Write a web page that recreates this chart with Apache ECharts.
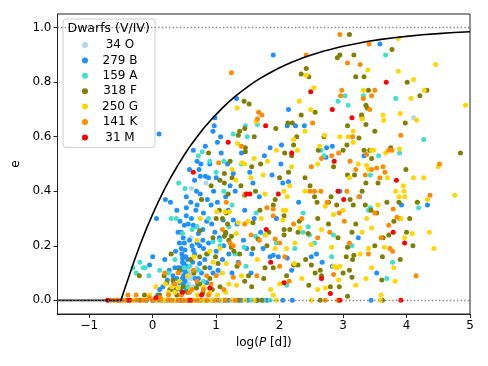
<!DOCTYPE html>
<html><head><meta charset="utf-8">
<script src="https://cdn.jsdelivr.net/npm/echarts@6/dist/echarts.min.js"></script>
<style>html,body{margin:0;padding:0;background:#fff}#c{width:488px;height:366px}</style>
</head><body><div id="c"></div>
<script>
const FONT = 'DejaVu Sans';
const xTicks = [-1, 0, 1, 2, 3, 4, 5];
const yTicks = [0, 0.2, 0.4, 0.6, 0.8, 1.0];
const legendTitle = 'Dwarfs (V/IV)';
const seriesNames = ['34 O', '279 B', '159 A', '318 F', '250 G', '141 K', '31 M'];
const seriesColors = ['#add8e6', '#1e90ff', '#40e0d0', '#808000', '#ffd700', '#ff8c00', '#ff0000'];

// envelope curve (log P, e)
const envelopeLogP = [-1.5,-0.5,-0.45,-0.4,-0.3,-0.2,-0.1,0,0.1,0.2,0.3,0.4,0.5,0.6,0.7,0.8,0.9,1.0,1.1,1.2,1.3,1.4,1.5,1.6,1.7,1.8,1.9,2.0,2.1,2.2,2.3,2.4,2.5,2.6,2.7,2.8,2.9,3.0,3.2,3.4,3.6,3.8,4.0,4.25,4.5,4.75,5.0];
const envelopeE   = [0,0,0.036,0.070,0.139,0.203,0.262,0.316,0.367,0.414,0.457,0.497,0.534,0.569,0.600,0.630,0.657,0.682,0.706,0.728,0.748,0.766,0.784,0.800,0.815,0.828,0.841,0.853,0.864,0.874,0.883,0.892,0.900,0.907,0.914,0.920,0.926,0.932,0.941,0.950,0.957,0.963,0.968,0.974,0.978,0.982,0.985];

const O = [[0.84,0.43],[0.61,0.41],[0.60,0.23],[0.48,0.21],[0.55,0.12],[0.58,0.10],[0.62,0.09],[0.56,0.11],[0.52,0.13],[0.60,0.08],[0.66,0.11],[0.53,0.08],[0.57,0.06],[0.64,0.05],[0.70,0.12],[0.45,0.10],[4.11,0.67],[1.05,0.10],[0.40,0.05],[0.30,0],[0.45,0],[0.55,0],[0.60,0],[0.65,0],[0.70,0],[0.75,0],[0.80,0],[1.00,0],[1.30,0],[1.60,0],[0.50,0],[0.35,0],[0.90,0],[1.70,0]];

const B = [[0.10,0.61],[0.06,0.30],[0.20,0.37],[0.28,0.36],[0.00,0.16],[0.19,0.15],[-0.05,0.13],[1.90,0.90],[1.32,0.74],[0.98,0.67],[0.97,0.64],[0.95,0.62],[1.07,0.60],[0.64,0.55],[1.02,0.58],[0.83,0.565],[1.08,0.54],[0.70,0.51],[0.76,0.50],[0.90,0.50],[0.73,0.48],[0.83,0.455],[0.88,0.45],[0.75,0.455],[0.69,0.40],[0.53,0.38],[0.75,0.39],[0.86,0.37],[0.92,0.35],[1.02,0.36],[1.22,0.42],[1.27,0.465],[1.40,0.54],[1.53,0.47],[1.58,0.43],[1.68,0.38],[1.76,0.53],[1.85,0.56],[1.88,0.46],[2.03,0.57],[2.02,0.50],[2.14,0.70],[2.12,0.64],[2.25,0.64],[2.39,0.64],[2.05,0.43],[2.14,0.435],[2.74,0.56],[2.73,0.525],[2.83,0.565],[2.95,0.40],[3.33,0.53],[3.26,0.38],[3.24,0.23],[3.53,0.10],[3.58,0.94],[3.92,0.35],[4.33,0.35],
[0.45,0.19],[0.43,0.29],[0.40,0.25],[0.45,0.25],[0.50,0.275],[0.53,0.34],[0.53,0.31],[0.61,0.30],[0.64,0.275],[0.69,0.27],[0.72,0.245],[0.79,0.26],[0.85,0.29],[0.79,0.22],[0.74,0.20],[0.64,0.185],[0.51,0.185],[0.47,0.155],[0.49,0.135],[0.53,0.125],[0.45,0.12],[0.49,0.09],[0.43,0.065],[0.50,0.05],[0.46,0.025],[0.56,0.04],[0.74,0.135],[0.77,0.10],[0.72,0.08],[0.85,0.065],[0.95,0.10],[1.03,0.11],[1.10,0.15],[1.15,0.245],[1.11,0.295],[1.19,0.33],[1.27,0.295],[1.33,0.28],[1.43,0.22],[1.48,0.19],[1.56,0.17],[1.74,0.19],[1.85,0.16],[1.90,0.165],[1.98,0.16],[2.12,0.155],[2.19,0.11],[2.50,0.16],[2.58,0.17],[2.67,0.14],[2.83,0.125],[0.23,0.075],[0.16,0.05],[0.08,0.02],[0.11,0.04],[0.29,0.04],[0.35,0.12],[0.32,0.09],
[0.48,0.23],[0.50,0.21],[0.46,0.17],[0.52,0.16],[0.55,0.15],[0.47,0.14],[0.50,0.11],[0.52,0.10],[0.47,0.08],[0.51,0.07],[0.48,0.06],[0.53,0.035],[0.44,0.04],[0.58,0.22],[0.62,0.20],[0.66,0.17],[0.70,0.21],[0.68,0.33],[0.56,0.28],[0.60,0.36],[0.38,0.33],[0.42,0.21],[0.36,0.18],[0.63,0.14],[0.67,0.08],[0.71,0.06],[0.80,0.19],[0.82,0.15],[0.88,0.21],[0.93,0.28],[0.98,0.25],[1.00,0.18],[1.05,0.23],[1.12,0.20],[1.20,0.17],[1.25,0.10],[1.35,0.14],[0.90,0.12],[0.96,0.40],[1.00,0.45],[1.15,0.38],[1.30,0.40],[1.18,0.50],[0.70,0.35],[0.80,0.32],[0.58,0.48],[0.66,0.44],[0.40,0.12],[0.33,0.06],[0.26,0.11],[0.38,0.08],[1.60,0.30],[1.70,0.25],[1.95,0.30],[2.30,0.36],[1.45,0.33],[1.55,0.10],
[-0.10,0],[0.05,0],[0.20,0],[0.40,0],[0.50,0],[0.62,0],[0.85,0],[1.05,0],[1.20,0],[1.40,0],[1.50,0],[1.80,0],[2.05,0],[2.20,0],[3.44,0],[0.95,0],[1.12,0],[1.65,0]];

const A = [[3.67,0.90],[3.32,0.75],[3.08,0.715],[3.83,0.74],[4.27,0.59],[3.56,0.53],[3.43,0.46],[4.19,0.34],[3.43,0.34],[3.89,0.54],[3.78,0.14],[3.69,0.08],[3.14,0.20],[2.85,0.24],[2.82,0.16],[2.65,0.55],[2.37,0.32],[2.45,0.27],[2.37,0.25],[2.24,0.19],[2.11,0.055],[1.95,0.21],[1.65,0.645],[1.49,0.60],[1.46,0.64],[1.27,0.61],[1.12,0.51],[1.00,0.47],[0.78,0.545],[0.72,0.53],[0.77,0.37],[0.41,0.43],[0.51,0.41],[0.29,0.30],[0.37,0.30],[0.47,0.245],[-0.20,0.14],[-0.31,0.12],[-0.15,0.12],[-0.12,0.12],[-0.26,0.10],[-0.06,0.09],[0.11,0.11],[0.50,0.12],[0.58,0.125],[0.72,0.11],[0.87,0.17],[1.30,0.17],[1.47,0.125],[1.62,0.235],[1.63,0.32],[1.77,0.24],[1.06,0.20],[1.06,0.22],[0.95,0.215],[3.03,0.75],[1.44,0.195],[0.62,0.26],[0.70,0.27],[1.12,0.40],[1.25,0.35],[0.88,0.30],[1.40,0.50],[0.90,0.51],[0.35,0.15],[0.25,0.10],[0.55,0.05],[0.80,0.07],[1.20,0.27],[2.70,0.53],[2.92,0.73],[3.40,0.33],[2.55,0.21],[2.47,0.24],
[-0.30,0],[0.0,0],[0.25,0],[0.55,0],[0.85,0],[1.10,0],[1.25,0],[1.35,0],[1.55,0],[1.75,0],[1.85,0],[0.15,0],[0.70,0]];

const F = [[3.10,0.975],[2.95,0.90],[2.91,0.89],[3.17,0.90],[3.77,0.92],[2.42,0.85],[2.34,0.83],[2.46,0.82],[3.33,0.82],[3.20,0.82],[3.40,0.77],[4.32,0.77],[4.01,0.80],[4.21,0.75],[3.36,0.715],[3.38,0.705],[3.29,0.68],[3.30,0.67],[3.98,0.65],[3.36,0.645],[3.07,0.64],[3.25,0.595],[3.50,0.62],[3.06,0.57],[3.33,0.55],[3.42,0.55],[3.45,0.52],[3.36,0.43],[3.07,0.46],[3.18,0.46],[3.99,0.48],[4.85,0.54],[3.88,0.36],[3.69,0.36],[4.17,0.36],[4.05,0.30],[3.53,0.32],[3.44,0.33],[3.35,0.35],[3.16,0.35],[3.11,0.37],[2.90,0.35],[2.77,0.36],[2.81,0.38],[2.55,0.38],[2.59,0.36],[2.48,0.42],[2.61,0.55],[2.56,0.69],[2.34,0.68],[2.13,0.65],[2.20,0.65],[1.94,0.63],[2.27,0.60],[2.22,0.57],[2.19,0.53],[2.08,0.54],[2.14,0.47],[2.00,0.45],[1.93,0.37],[1.90,0.35],[2.07,0.31],[2.07,0.26],[2.07,0.24],[2.16,0.26],[2.29,0.25],[2.31,0.29],[2.45,0.245],[2.22,0.13],[2.11,0.09],[2.29,0.13],[2.41,0.15],[2.56,0.10],[2.46,0.055],[2.64,0.11],[2.66,0.09],[2.77,0.28],[2.92,0.23],[2.94,0.05],[3.07,0.015],[3.07,0.195],[3.17,0.165],[3.14,0.085],[3.10,0.11],[3.15,0.15],[3.05,0.16],[3.14,0.25],[3.62,0.16],[3.61,0.075],[3.63,0.23],[3.72,0.24],[3.90,0.15],[3.90,0.30],[1.90,0.12],[1.77,0.12],[1.66,0.225],[1.58,0.285],[1.69,0.33],[1.58,0.19],[1.37,0.17],[1.51,0.09],[1.33,0.125],[1.56,0.05],[1.45,0.07],[1.24,0.195],[1.13,0.235],[1.15,0.25],[1.24,0.235],[1.16,0.32],[1.19,0.39],[1.13,0.465],[1.06,0.44],[1.13,0.43],[1.22,0.51],[1.35,0.605],[1.37,0.62],[1.45,0.63],[1.44,0.73],[1.52,0.72],[1.46,0.56],[1.46,0.545],[1.56,0.49],[1.39,0.42],[1.45,0.385],[0.88,0.54],[0.77,0.37],[0.74,0.255],[0.74,0.16],[0.95,0.23],[0.99,0.16],[1.03,0.135],[1.06,0.05],[0.74,0.06],[0.79,0.027],[0.90,0.08],[0.69,0.045],[0.32,0.075],[0.37,0.04],[0.22,0.065],[0.18,0.09],[0.29,0.17],[-0.13,0.02],[-0.21,0.09],[0.11,0.02],[0.48,0.05],
[1.10,0.30],[1.18,0.28],[1.20,0.22],[1.28,0.18],[1.05,0.33],[1.25,0.45],[1.62,0.40],[1.75,0.08],[1.83,0.25],[1.60,0.60],[1.70,0.50],[2.40,0.45],[2.60,0.30],[2.70,0.60],[2.85,0.49],[3.00,0.55],[3.20,0.28],[3.30,0.40],[3.55,0.43],[3.75,0.56],[3.80,0.29],[4.00,0.25],[4.10,0.20],[3.50,0.20],[3.00,0.10],[2.80,0.05],[2.50,0.13],[1.80,0.20],[0.85,0.17],[0.65,0.10],[0.60,0.15],[0.42,0.11],[0.27,0.04],[0.38,0.02],[0.55,0.03],[0.82,0.12],[0.94,0.04],[1.00,0.30],[0.92,0.42],
[-0.55,0],[-0.40,0],[-0.20,0],[0.00,0],[0.15,0],[0.35,0],[0.55,0],[0.75,0],[0.95,0],[1.15,0],[1.35,0],[1.64,0],[1.72,0],[2.64,0],[3.62,0],[0.45,0],[0.85,0]];

const G = [[3.87,0.96],[3.87,0.84],[4.46,0.865],[3.39,0.845],[2.42,0.825],[2.54,0.78],[3.32,0.77],[4.11,0.81],[4.07,0.74],[4.28,0.77],[4.93,0.715],[2.31,0.73],[2.49,0.70],[3.63,0.68],[3.64,0.66],[3.90,0.685],[4.16,0.66],[3.30,0.665],[3.16,0.62],[3.08,0.60],[3.16,0.58],[2.71,0.605],[2.63,0.565],[3.24,0.50],[3.45,0.55],[3.48,0.55],[3.67,0.54],[3.89,0.555],[3.37,0.495],[3.40,0.48],[4.11,0.45],[4.27,0.45],[4.50,0.49],[4.76,0.385],[3.95,0.42],[3.96,0.40],[3.97,0.38],[3.83,0.40],[3.88,0.38],[4.33,0.37],[3.91,0.30],[4.36,0.25],[4.09,0.245],[3.97,0.23],[4.43,0.19],[3.82,0.07],[3.80,0.12],[3.65,0.195],[3.40,0.19],[3.37,0.30],[3.45,0.265],[3.00,0.33],[2.85,0.315],[2.72,0.345],[2.66,0.26],[2.82,0.195],[2.85,0.125],[2.90,0.12],[2.95,0.125],[2.93,0.075],[3.20,0.055],[3.27,0.17],[3.36,0.08],[2.72,0.045],[2.50,0.205],[2.32,0.265],[2.24,0.21],[2.23,0.135],[2.11,0.19],[2.06,0.33],[2.10,0.33],[2.05,0.295],[2.12,0.38],[2.07,0.40],[2.16,0.42],[2.19,0.49],[2.28,0.55],[2.22,0.59],[1.77,0.39],[1.74,0.46],[1.81,0.51],[1.71,0.30],[1.78,0.24],[1.86,0.04],[1.90,0.02],[1.93,0.19],[1.34,0.575],[1.33,0.705],[1.63,0.655],[1.41,0.505],[1.31,0.44],[1.21,0.325],[1.14,0.325],[1.35,0.285],[1.32,0.245],[1.16,0.135],[1.32,0.055],[1.06,0.19],[1.01,0.325],
[1.25,0.48],[1.45,0.50],[1.55,0.45],[1.60,0.52],[1.50,0.29],[1.65,0.15],[1.40,0.09],[1.20,0.06],[1.10,0.10],[0.95,0.14],[0.90,0.18],[0.70,0.22],[0.75,0.30],[0.65,0.16],[0.55,0.09],[0.42,0.07],[0.30,0.05],[0.25,0.03],[0.20,0.06],[0.35,0.03],[0.40,0.045],[0.60,0.04],[0.70,0.02],[0.80,0.05],[0.90,0.03],[1.02,0.02],[1.15,0.03],[0.05,0.05],[-0.05,0.02],[2.00,0.06],[2.35,0.08],[2.60,0.04],[2.60,0.50],[2.40,0.40],[2.95,0.60],[3.10,0.45],[3.30,0.25],[3.55,0.35],[3.70,0.45],[3.45,0.12],[3.60,0.02],[2.40,0.62],[1.95,0.55],
[-0.50,0],[-0.30,0],[-0.15,0],[0.05,0],[0.20,0],[0.35,0],[0.50,0],[0.65,0],[0.80,0],[0.95,0],[1.08,0],[1.25,0],[1.45,0],[1.60,0],[1.95,0],[2.50,0],[3.59,0],[0.15,0],[0.72,0],[0.88,0]];

const K = [[2.95,0.975],[3.41,0.94],[2.42,0.90],[3.07,0.87],[3.27,0.865],[1.24,0.835],[3.50,0.77],[2.98,0.77],[2.96,0.75],[3.42,0.70],[3.32,0.74],[2.52,0.65],[1.67,0.69],[1.72,0.68],[1.65,0.665],[3.91,0.605],[3.72,0.55],[3.77,0.55],[3.37,0.535],[3.11,0.51],[3.63,0.49],[3.53,0.485],[3.66,0.47],[4.52,0.50],[4.37,0.385],[3.79,0.335],[3.85,0.305],[3.72,0.275],[3.74,0.19],[4.15,0.09],[3.50,0.32],[3.06,0.40],[3.02,0.29],[3.10,0.21],[2.94,0.32],[2.66,0.52],[2.82,0.53],[2.93,0.54],[2.50,0.49],[2.48,0.40],[2.79,0.25],[2.85,0.095],[2.72,0],[2.22,0.28],[2.08,0.16],[1.93,0.225],[2.00,0.125],[1.90,0.31],[1.90,0.335],[1.68,0.22],[1.64,0.09],[1.45,0.28],[1.36,0.135],[1.27,0.085],[1.27,0.20],[1.22,0.21],[1.16,0.36],[1.04,0.505],[1.40,0.565],[1.46,0.39],[0.85,0.09],[0.64,0.11],[-0.26,0.02],[-0.39,0.02],[0.19,0.10],
[3.20,0.48],[3.35,0.46],[3.45,0.48],[3.58,0.45],[3.25,0.38],[3.15,0.60],[3.45,0.75],[3.60,0.23],[3.40,0.17],[3.78,0.18],[2.65,0.40],[2.75,0.36],[2.60,0.23],[2.35,0.30],[2.55,0.40],[2.00,0.21],[2.15,0.07],[1.80,0.34],[1.55,0.24],[1.10,0.26],[1.00,0.09],[0.92,0.06],[0.80,0.04],[0.70,0.07],[0.58,0.03],[0.45,0.02],[0.35,0.06],[0.25,0.02],[0.12,0.01],[-0.05,0.01],[0.62,0.04],[0.88,0.02],[1.12,0.04],[0.40,0.10],
[-0.65,0],[-0.60,0],[-0.55,0],[-0.50,0],[-0.45,0],[-0.35,0],[-0.25,0],[-0.10,0],[0.00,0],[0.10,0],[0.25,0],[0.40,0],[0.55,0],[0.70,0],[0.85,0],[1.00,0],[1.15,0],[1.30,0],[2.92,0],[0.30,0],[0.48,0],[0.62,0],[-0.15,0]];

const M = [[-0.71,0],[-0.37,0],[0.05,0.01],[0.47,0.03],[0.59,0],[0.77,0.02],[0.90,0.045],[0.64,0.47],[1.19,0.58],[1.48,0.39],[1.53,0.39],[1.78,0.64],[1.79,0.26],[1.86,0.14],[1.98,0.39],[2.07,0.065],[2.19,0.54],[2.49,0.765],[2.66,0.08],[2.80,0.025],[2.83,0.70],[2.86,0.51],[2.92,0.40],[2.95,0],[3.01,0.37],[3.14,0.67],[3.68,0.80],[3.79,0.25],[3.84,0.44],[3.91,0],[3.97,0.21]];

const groups = [O, B, A, F, G, K, M];

const chart = echarts.init(document.getElementById('c'), null, {renderer: 'canvas'});
const scatterSeries = groups.map((d, i) => ({
  name: seriesNames[i], type: 'scatter', data: d, symbol: 'circle', symbolSize: 5,
  itemStyle: {color: seriesColors[i], opacity: 1}, z: 3
}));
const envelope = envelopeLogP.map((x, i) => [x, envelopeE[i]]);

chart.setOption({
  animation: false,
  backgroundColor: '#fff',
  textStyle: {fontFamily: FONT},
  grid: {left: 57.5, right: 18, top: 14, bottom: 52, show: true, borderColor: '#222', borderWidth: 1, backgroundColor: 'transparent'},
  xAxis: {
    type: 'value', min: -1.5, max: 5,
    axisLine: {show: true, onZero: false, lineStyle: {color: '#222', width: 1}},
    axisTick: {show: true, inside: false, length: 4, customValues: xTicks, lineStyle: {color: '#222'}},
    axisLabel: {customValues: xTicks, color: '#000', fontSize: 12, fontFamily: FONT, margin: 6,
      formatter: v => String(v).replace('-', '\u2212')},
    splitLine: {show: false},
    name: 'log({i|P} [d])', nameLocation: 'middle', nameGap: 23,
    nameTextStyle: {color: '#000', fontSize: 12, fontFamily: FONT, rich: {i: {fontStyle: 'italic', fontSize: 12, fontFamily: FONT, color: '#000'}}}
  },
  yAxis: {
    type: 'value', min: -0.05, max: 1.05,
    axisLine: {show: true, onZero: false, lineStyle: {color: '#222', width: 1}},
    axisTick: {show: true, inside: false, length: 4, customValues: yTicks, lineStyle: {color: '#222'}},
    axisLabel: {customValues: yTicks, color: '#000', fontSize: 12, fontFamily: FONT, margin: 6,
      formatter: v => v.toFixed(1)},
    splitLine: {show: false},
    name: 'e', nameLocation: 'middle', nameGap: 30,
    nameTextStyle: {color: '#000', fontSize: 12, fontFamily: FONT}
  },
  legend: {
    orient: 'vertical', left: 63, top: 19,
    data: seriesNames, icon: 'circle', itemWidth: 6, itemHeight: 6,
    padding: [19, 8, 3, 19], itemGap: 1.4,
    backgroundColor: 'rgba(255,255,255,0.85)', borderColor: '#cccccc', borderWidth: 1, borderRadius: 3,
    selectedMode: false,
    textStyle: {fontSize: 12, color: '#000', fontFamily: FONT, lineHeight: 14,
      rich: {c: {width: 54, align: 'center', fontSize: 12, lineHeight: 14, fontFamily: FONT, color: '#000'}}},
    formatter: n => '{c|' + n + '}'
  },
  graphic: [{
    type: 'text', left: 67.5, top: 22, z: 100,
    style: {text: legendTitle, font: '12.5px "DejaVu Sans"', fill: '#000'}
  }],
  series: [
    {type: 'line', data: [], silent: true, z: 1,
     markLine: {silent: true, symbol: 'none', label: {show: false},
       lineStyle: {type: [1.3, 2.3], color: '#808080', width: 1.3},
       data: [{yAxis: 0}, {yAxis: 1}]}},
    ...scatterSeries,
    {type: 'line', data: envelope, showSymbol: false, smooth: false,
     lineStyle: {color: '#000', width: 1.6, join: 'round'}, z: 4, silent: true}
  ]
});
</script>
</body></html>
